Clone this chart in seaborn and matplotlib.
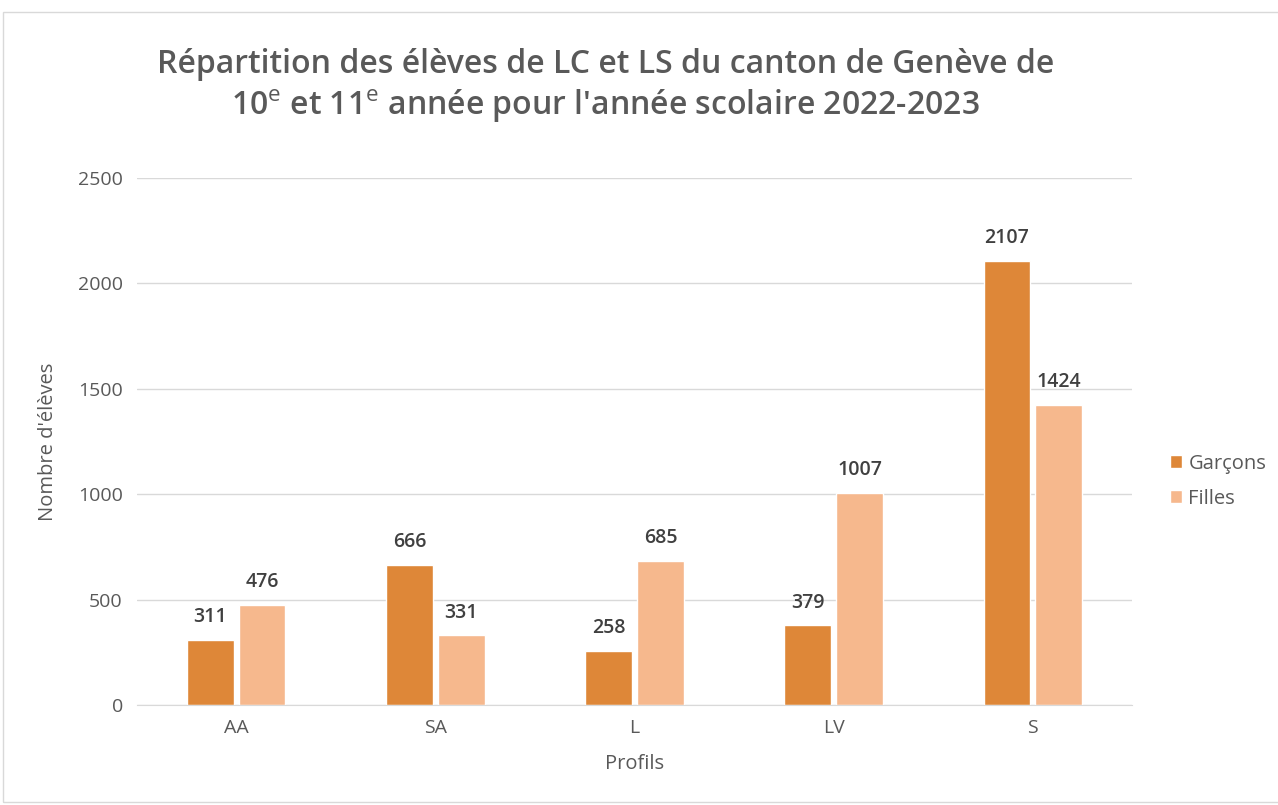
import pandas as pd
import matplotlib.pyplot as plt
import seaborn as sns
from matplotlib.patches import Rectangle

# ------------------------------------
# DATA
# ------------------------------------
profils = ["AA", "SA", "L", "LV", "S"]
garcons = [311, 666, 258, 379, 2107]
filles = [476, 331, 685, 1007, 1424]
groupes = ["Garçons", "Filles"]

COLORS = ["#DE8738", "#F6B88D"]
TEXT = "#595959"

df = pd.DataFrame({
    "Profils": profils * 2,
    "Nombre": garcons + filles,
    "Groupe": [groupes[0]] * len(profils) + [groupes[1]] * len(profils),
})

# ------------------------------------
# PLOT
# ------------------------------------
sns.set_style("white")
plt.rcParams["font.family"] = ["Open Sans", "DejaVu Sans"]
plt.rcParams["mathtext.fontset"] = "custom"
plt.rcParams["mathtext.rm"] = "Open Sans"

fig = plt.figure(figsize=(12.78, 8.05), dpi=100)
ax = fig.add_axes([0.107, 0.124, 0.779, 0.655])

sns.barplot(data=df, x="Profils", y="Nombre", hue="Groupe",
            palette=COLORS, width=0.52, gap=0.1, saturation=1,
            ax=ax)

for cont in ax.containers:
    ax.bar_label(cont, padding=9, fontsize=14, color="#404040",
                 fontweight="semibold")

ax.set_ylim(0, 2500)
ax.set_yticks(range(0, 2501, 500))
ax.yaxis.grid(True, color="#D9D9D9", linewidth=1)
ax.set_axisbelow(True)
for s in ["left", "right", "top"]:
    ax.spines[s].set_visible(False)
ax.spines["bottom"].set_color("#D9D9D9")
ax.tick_params(axis="both", length=0, labelsize=14, labelcolor=TEXT, pad=10)

ax.set_xlabel("Profils", fontsize=14.5, color=TEXT, labelpad=12)
ax.set_ylabel("Nombre d'élèves", fontsize=14.5, color=TEXT, labelpad=14)

ax.legend(loc="center left", bbox_to_anchor=(1.02, 0.425), frameon=False,
          fontsize=14.5, labelcolor=TEXT, handlelength=0.6, handleheight=0.6,
          handletextpad=0.3, labelspacing=0.75)

fig.text(0.474, 0.893,
         "Répartition des élèves de LC et LS du canton de Genève de\n"
         "10$^{\\mathrm{e}}$ et 11$^{\\mathrm{e}}$ année pour l'année scolaire 2022-2023",
         ha="center", va="center", fontsize=23, color=TEXT,
         fontweight="semibold", linespacing=1.25)

# chart border
fig.patches.append(Rectangle((3 / 1278, 0.004), 1.0, 1 - 12 / 805 - 0.004,
                             transform=fig.transFigure, fill=False,
                             edgecolor="#D9D9D9", linewidth=1))

fig.savefig("out.png", dpi=100)
